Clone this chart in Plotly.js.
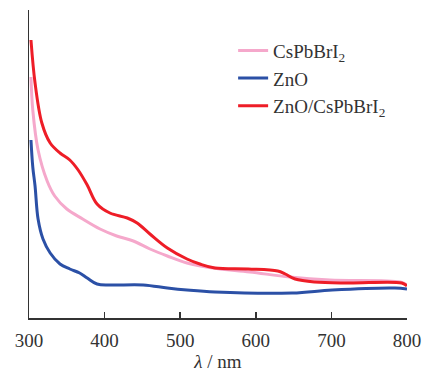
<!DOCTYPE html>
<html><head><meta charset="utf-8">
<script src="https://cdn.plot.ly/plotly-3.0.1.min.js"></script>
<style>html,body{margin:0;padding:0;background:#fff}#c{width:430px;height:372px}</style>
</head><body><div id="c"></div>
<script>
const redX = [302.6,308,317,328,341,354,365,377,390,407,430,443,460,483,509,526,546,590,629,639,652,678,722,793,800];
const redY = [2.78,2.35,1.95,1.75,1.65,1.58,1.48,1.33,1.14,1.05,1.00,0.95,0.84,0.70,0.59,0.54,0.50,0.49,0.47,0.44,0.39,0.36,0.35,0.35,0.32];
const pinkX = [302.6,305,312,324,334,350,371,394,416,438,460,483,509,543,592,645,698,791,800];
const pinkY = [2.41,2.08,1.68,1.37,1.22,1.09,0.99,0.89,0.82,0.77,0.69,0.62,0.55,0.50,0.46,0.41,0.38,0.36,0.33];
const blueX = [302.6,305,308,312,318.5,328,341,354,367,377,390,407,451,483,509,546,648,701,784,800];
const blueY = [1.78,1.51,1.32,0.99,0.79,0.65,0.54,0.49,0.45,0.40,0.34,0.33,0.33,0.30,0.28,0.26,0.25,0.28,0.30,0.29];
const xTicks = [300,400,500,600,700,800];
const names = ['CsPbBrI<sub>2</sub>','ZnO','ZnO/CsPbBrI<sub>2</sub>'];

const font = {family:'"Liberation Serif", "Times New Roman", serif', size:19, color:'#333'};
const traces = [
  {x:pinkX, y:pinkY, name:names[0], mode:'lines', line:{color:'#f5a8cb', width:3, shape:'spline'}},
  {x:blueX, y:blueY, name:names[1], mode:'lines', line:{color:'#2b50a6', width:3, shape:'spline'}},
  {x:redX, y:redY, name:names[2], mode:'lines', line:{color:'#ee1d27', width:3, shape:'spline'}}
];
const layout = {
  width:430, height:372,
  margin:{l:29, r:23, t:10, b:54},
  paper_bgcolor:'#fff', plot_bgcolor:'#fff',
  font:font,
  showlegend:true,
  legend:{x:0.54, y:0.93, xanchor:'left', yanchor:'top', font:font, bgcolor:'rgba(0,0,0,0)', tracegroupgap:0, itemwidth:30},
  xaxis:{range:[300,800], tickvals:xTicks, ticktext:xTicks.map(String), ticks:'inside', ticklen:6, tickwidth:1.5, tickcolor:'#333',
         showline:true, linecolor:'#333', linewidth:1.5, showgrid:false, zeroline:false, tickfont:font, ticklabelstandoff:5,
         title:{text:'<i>λ</i> / nm', font:font, standoff:8}},
  yaxis:{range:[0,3.08], tickvals:[3.08], ticks:'inside', ticklen:5, tickwidth:1.5, tickcolor:'#333', showticklabels:false,
         showline:true, linecolor:'#333', linewidth:1.5, showgrid:false, zeroline:false}
};
Plotly.newPlot('c', traces, layout, {displayModeBar:false, staticPlot:true});
</script></body></html>
